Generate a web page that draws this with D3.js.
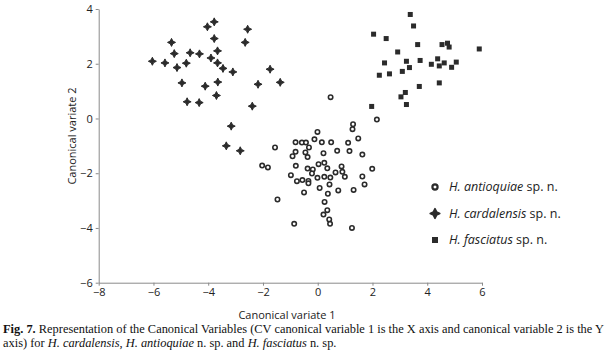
<!DOCTYPE html>
<html>
<head>
<meta charset="utf-8">
<script src="https://cdn.jsdelivr.net/npm/d3@7"></script>
<style>
  body { margin: 0; background: #fff; }
  svg { display: block; }
  .axis path, .axis line { stroke: #8a8a8a; }
  .axis text { font-family: "Open Sans", sans-serif; font-size: 11px; fill: #222; }
  .lbl { font-family: "Open Sans", sans-serif; font-size: 11px; fill: #222; }
  .leg { font-family: "Open Sans", sans-serif; font-size: 12.5px; fill: #222; }
  .cap { font-family: "Liberation Serif", serif; font-size: 12.4px; fill: #111; }
</style>
</head>
<body>
<svg width="616" height="357"></svg>
<script>
// canonical variate 1 / 2 scores
var antioquiae = [
  [1.29,-0.21],[1.27,-0.39],[-0.01,-0.49],[1.48,-0.73],[-0.12,-0.76],[-0.81,-0.87],
  [-0.58,-0.88],[-0.43,-0.88],[0.15,-0.87],[0.49,-0.87],[1.11,-0.89],[-0.32,-1.06],
  [-1.56,-1.06],[-0.81,-1.22],[-0.45,-1.24],[0.21,-1.27],[0.71,-1.18],[1.16,-1.19],
  [1.63,-1.32],[-0.92,-1.38],[-0.37,-1.41],[-0.80,-1.73],[0.03,-1.67],[0.24,-1.62],
  [0.35,-1.82],[-0.37,-1.83],[-0.18,-1.86],[0.87,-1.75],[-2.03,-1.72],[-1.82,-1.79],
  [-0.98,-2.07],[-0.21,-2.01],[-0.01,-2.17],[0.24,-2.13],[0.46,-2.16],[0.65,-1.97],
  [0.90,-1.95],[0.99,-2.13],[-0.76,-2.29],[-0.56,-2.25],[-0.34,-2.28],[-0.34,-2.37],
  [0.43,-2.41],[1.63,-2.12],[1.71,-2.41],[0.07,-2.54],[0.75,-2.63],[1.31,-2.61],
  [-0.50,-2.70],[0.37,-2.75],[-1.47,-2.96],[0.25,-3.05],[0.35,-3.35],[0.21,-3.51],
  [0.42,-3.69],[0.45,-3.85],[-0.86,-3.85],[1.25,-4.00],[2.16,-0.04],[0.47,0.78],
  [1.99,-1.84]
];

var cardalensis = [
  [-3.78,3.53],[-4.03,3.35],[-2.56,3.26],[-3.78,2.92],[-2.65,2.78],[-5.34,2.78],
  [-3.66,2.47],[-5.24,2.37],[-4.66,2.40],[-4.32,2.36],[-3.90,2.21],[-6.04,2.09],
  [-5.58,2.03],[-4.80,2.02],[-5.14,1.86],[-3.66,2.03],[-3.46,1.83],[-3.10,1.70],
  [-1.74,1.80],[-4.96,1.30],[-4.11,1.18],[-3.65,1.33],[-2.18,1.25],[-1.37,1.32],
  [-3.70,0.84],[-4.77,0.61],[-4.33,0.58],[-2.39,0.45],[-3.16,-0.28],[-3.34,-1.00],
  [-2.83,-1.18]
];

var fasciatus = [
  [3.38,3.80],[3.50,3.38],[2.04,3.08],[2.50,2.92],[3.65,2.70],[4.54,2.70],
  [4.74,2.75],[4.80,2.61],[5.90,2.54],[2.92,2.43],[2.44,2.03],[3.24,2.09],
  [3.74,2.12],[3.35,1.86],[4.15,1.98],[4.38,2.18],[4.44,1.92],[4.62,2.03],
  [5.06,2.06],[4.89,1.87],[2.25,1.58],[2.62,1.63],[3.09,1.72],[3.71,1.17],
  [4.44,1.30],[3.20,0.95],[3.04,0.79],[3.24,0.51],[1.97,0.44]
];

var xTicks = [-8, -6, -4, -2, 0, 2, 4, 6];
var yTicks = [-6, -4, -2, 0, 2, 4];
var legendNames = ["H. antioquiae", "H. cardalensis", "H. fasciatus"];

var svg = d3.select("svg");
var ink = "#2b2b2b";

var x = d3.scaleLinear().domain([-8, 6]).range([98.7, 482]);
var y = d3.scaleLinear().domain([-6, 4]).range([282.7, 9]);

// axes
svg.append("g")
    .attr("class", "axis")
    .attr("transform", "translate(0," + y(-6) + ")")
    .call(d3.axisBottom(x).tickValues(xTicks).tickSize(3).tickPadding(3).tickSizeOuter(0));

svg.append("g")
    .attr("class", "axis")
    .attr("transform", "translate(" + x(-8) + ",0)")
    .call(d3.axisLeft(y).tickValues(yTicks).tickSize(3).tickPadding(3).tickSizeOuter(0));

svg.append("text").attr("class", "lbl")
    .attr("x", 287).attr("y", 319)
    .attr("text-anchor", "middle")
    .text("Canonical variate 1");

svg.append("text").attr("class", "lbl")
    .attr("transform", "translate(76,136) rotate(-90)")
    .attr("text-anchor", "middle")
    .text("Canonical variate 2");

// marker shapes - 4 pointed star for cardalensis
function star(r) {
  var a = r * 0.33;
  return "M0," + (-r) + "L" + a + "," + (-a) + "L" + r + ",0L" + a + "," + a +
         "L0," + r + "L" + (-a) + "," + a + "L" + (-r) + ",0L" + (-a) + "," + (-a) + "Z";
}

function drawCircles(g, data, r) {
  g.selectAll(null).data(data).enter().append("circle")
      .attr("cx", function(d) { return x(d[0]); })
      .attr("cy", function(d) { return y(d[1]); })
      .attr("r", r)
      .attr("fill", "#fff")
      .attr("stroke", ink)
      .attr("stroke-width", 1.6);
}

function drawStars(g, data, r) {
  g.selectAll(null).data(data).enter().append("path")
      .attr("d", star(r))
      .attr("transform", function(d) { return "translate(" + x(d[0]) + "," + y(d[1]) + ")"; })
      .attr("fill", ink)
      .attr("stroke", ink)
      .attr("stroke-width", 1)
      .attr("stroke-linejoin", "round");
}

function drawSquares(g, data, s) {
  g.selectAll(null).data(data).enter().append("rect")
      .attr("x", function(d) { return x(d[0]) - s / 2; })
      .attr("y", function(d) { return y(d[1]) - s / 2; })
      .attr("width", s).attr("height", s)
      .attr("fill", ink);
}

var pts = svg.append("g");
drawStars(pts, cardalensis, 4);
drawSquares(pts, fasciatus, 5);
drawCircles(pts, antioquiae, 2.2);

// legend
var leg = svg.append("g");
var legY = [187, 213.5, 240];
leg.append("circle").attr("cx", 435).attr("cy", legY[0]).attr("r", 2.6)
    .attr("fill", "#fff").attr("stroke", ink).attr("stroke-width", 2.2);
leg.append("path").attr("d", star(4.8))
    .attr("transform", "translate(435," + legY[1] + ")")
    .attr("fill", ink).attr("stroke", ink).attr("stroke-width", 1.6)
    .attr("stroke-linejoin", "round");
leg.append("rect").attr("x", 432).attr("y", legY[2] - 3).attr("width", 6).attr("height", 6)
    .attr("fill", ink);

legendNames.forEach(function(n, i) {
  var t = leg.append("text").attr("class", "leg")
      .attr("x", 449).attr("y", legY[i]).attr("dy", "0.35em");
  t.append("tspan").attr("font-style", "italic").text(n);
  t.append("tspan").text(" sp. n.");
});

// caption
var c1 = svg.append("text").attr("class", "cap").attr("x", 3).attr("y", 333);
c1.append("tspan").attr("font-weight", "bold").text("Fig. 7.");
c1.append("tspan").text(" Representation of the Canonical Variables (CV canonical variable 1 is the X axis and canonical variable 2 is the Y");

var c2 = svg.append("text").attr("class", "cap").attr("x", 3).attr("y", 347);
c2.append("tspan").text("axis) for ");
c2.append("tspan").attr("font-style", "italic").text("H. cardalensis");
c2.append("tspan").text(", ");
c2.append("tspan").attr("font-style", "italic").text("H. antioquiae");
c2.append("tspan").text(" n. sp. and ");
c2.append("tspan").attr("font-style", "italic").text("H. fasciatus");
c2.append("tspan").text(" n. sp.");
</script>
</body>
</html>
